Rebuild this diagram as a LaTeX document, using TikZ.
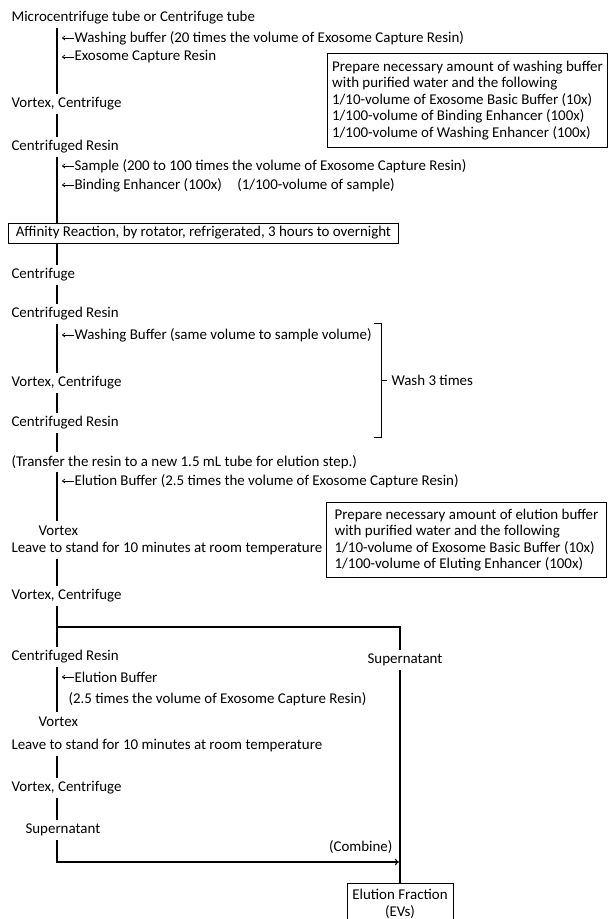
\documentclass[tikz,border=0pt]{standalone}
\usepackage{fontspec}
\setmainfont{Carlito}
\usetikzlibrary{arrows.meta}

\begin{document}
\begin{tikzpicture}
	[x=0.75pt, y=-0.75pt, thick, font=\fontsize{11.2}{12.6}\selectfont,
	main/.style = {anchor=west, inner xsep=0pt, inner ysep=0pt, minimum height=14pt},
	add/.style = {anchor=west, inner sep=0pt},
	feed/.style = {-{To[length=2.5pt, width=3.5pt]}, line width=0.5pt},
	note/.style = {draw, anchor=north west, align=left, line width=0.7pt, inner xsep=3pt, inner ysep=0pt, minimum width=210pt, font=\fontsize{11.2}{12.4}\selectfont}]
	\useasboundingbox (0,0) rectangle (610,919);
	\coordinate (s) at (57,0);
	\coordinate (r) at (400,0);

	\node[main] (1) at (11,18) {Microcentrifuge tube or Centrifuge tube};
	\node[add] (a1) at (74,38) {Washing buffer (20 times the volume of Exosome Capture Resin)};
	\node[add] (a2) at (74,57) {Exosome Capture Resin};
	\node[note, minimum height=70.5pt] (n1) at (327,53) {Prepare necessary amount of washing buffer\\with purified water and the following\\1/10-volume of Exosome Basic Buffer (10x)\\1/100-volume of Binding Enhancer (100x)\\1/100-volume of Washing Enhancer (100x)};
	\node[main] (2) at (11,104) {Vortex, Centrifuge};
	\node[main] (3) at (11,147) {Centrifuged Resin};
	\node[add] (a3) at (74,166) {Sample (200 to 100 times the volume of Exosome Capture Resin)};
	\node[add] (a4) at (74,185) {Binding Enhancer (100x)\hspace{0.8em} (1/100-volume of sample)};
	\node[draw, anchor=west, line width=0.7pt, inner xsep=5.5pt, inner ysep=0pt, minimum height=15pt] (4) at (8,233) {Affinity Reaction, by rotator, refrigerated, 3 hours to overnight};
	\node[main] (5) at (11,275) {Centrifuge};
	\node[main] (6) at (11,314) {Centrifuged Resin};
	\node[add] (a5) at (74,335) {Washing Buffer (same volume to sample volume)};
	\node[main] (7) at (11,383) {Vortex, Centrifuge};
	\node[main] (8) at (11,423) {Centrifuged Resin};
	\node[add, inner xsep=3pt] (w) at (387,380) {Wash 3 times};
	\node[main] (9) at (11,462) {(Transfer the resin to a new 1.5 mL tube for elution step.)};
	\node[add] (a6) at (74,481) {Elution Buffer (2.5 times the volume of Exosome Capture Resin)};
	\node[note, minimum height=56.25pt] (n2) at (326,502) {Prepare necessary amount of elution buffer\\with purified water and the following\\1/10-volume of Exosome Basic Buffer (10x)\\1/100-volume of Eluting Enhancer (100x)};
	\node[main] (10) at (38,531) {Vortex};
	\node[main] (11) at (11,549) {Leave to stand for 10 minutes at room temperature};
	\node[main] (12) at (11,596) {Vortex, Centrifuge};
	\node[main] (13) at (11,657) {Centrifuged Resin};
	\node[main, anchor=center] (14) at (405,660) {Supernatant};
	\node[add] (a7) at (74,677) {Elution Buffer};
	\node[add] (a8) at (68,699) {(2.5 times the volume of Exosome Capture Resin)};
	\node[main] (15) at (38,722) {Vortex};
	\node[main] (16) at (11,746) {Leave to stand for 10 minutes at room temperature};
	\node[main] (17) at (11,788) {Vortex, Centrifuge};
	\node[main] (18) at (25,830) {Supernatant};
	\node[add, anchor=east] (a9) at (393,847) {(Combine)};
	\node[draw, anchor=north, align=center, line width=0.7pt, minimum width=79.5pt, inner ysep=4.5pt, font=\fontsize{11.2}{12.75}\selectfont] (19) at (400,883) {Elution Fraction\\(EVs)};
	\coordinate (b) at (57,627);
	\coordinate (c) at (399,862);
	\coordinate (k) at (381,380);

	\draw (1.south -| s) -- (2.north -| s);
	\draw[feed] (a1.west) -- ++(-12,0);
	\draw[feed] (a2.west) -- ++(-12,0);
	\draw (2.south -| s) -- (3.north -| s);
	\draw (3.south -| s) -- (4.north -| s);
	\draw[feed] (a3.west) -- ++(-12,0);
	\draw[feed] (a4.west) -- ++(-12,0);
	\draw (4.south -| s) -- (5.north -| s);
	\draw (5.south -| s) -- (6.north -| s);
	\draw (6.south -| s) -- (7.north -| s);
	\draw[feed] (a5.west) -- ++(-12,0);
	\draw (7.south -| s) -- (8.north -| s);
	\draw (8.south -| s) -- (9.north -| s);
	\draw[line width=0.7pt] (374,323) -| (381,437) -- (374,437);
	\draw[line width=0.7pt] (k) -- (w.west);
	\draw (9.south -| s) -- (10.north -| s);
	\draw[feed] (a6.west) -- ++(-12,0);
	\draw (11.south -| s) -- (12.north -| s);
	\draw (12.south -| s) -- (13.north -| s);
	\draw (b) -| (14.north -| r);
	\draw (13.south -| s) -- (15.north -| s);
	\draw[feed] (a7.west) -- ++(-12,0);
	\draw (16.south -| s) -- (17.north -| s);
	\draw (17.south -| s) -- (18.north -| s);
	\draw[-{To[length=3pt, width=5pt]}] (18.south -| s) |- (c);
	\draw (14.south -| r) -- (19.north);

\end{tikzpicture}
\end{document}
